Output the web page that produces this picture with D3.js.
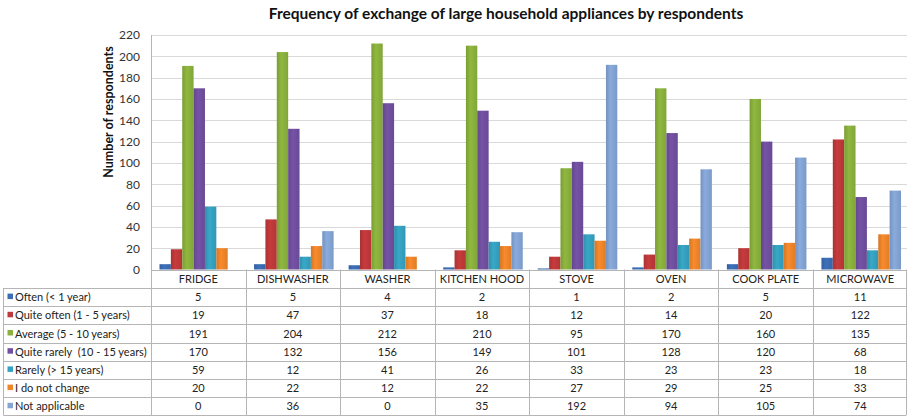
<!DOCTYPE html>
<html>
<head>
<meta charset="utf-8">
<script src="https://cdn.jsdelivr.net/npm/d3@7"></script>
<style>
  html, body { margin: 0; padding: 0; background: #fff; }
  svg { display: block; font-family: Lato, "Open Sans", sans-serif; }
</style>
</head>
<body>
<svg id="chart" width="907" height="417"></svg>
<script>
// Appliances and response categories
const categories = ["FRIDGE", "DISHWASHER", "WASHER", "KITCHEN HOOD", "STOVE", "OVEN", "COOK PLATE", "MICROWAVE"];
const seriesNames = [
  "Often (< 1 year)",
  "Quite often (1 - 5 years)",
  "Average (5 - 10 years)",
  "Quite rarely  (10 - 15 years)",
  "Rarely (> 15 years)",
  "I do not change",
  "Not applicable"
];
const often         = [5, 5, 4, 2, 1, 2, 5, 11];
const quiteOften    = [19, 47, 37, 18, 12, 14, 20, 122];
const average       = [191, 204, 212, 210, 95, 170, 160, 135];
const quiteRarely   = [170, 132, 156, 149, 101, 128, 120, 68];
const rarely        = [59, 12, 41, 26, 33, 23, 23, 18];
const noChange      = [20, 22, 12, 22, 27, 29, 25, 33];
const notApplicable = [0, 36, 0, 35, 192, 94, 105, 74];
const yTicks = [0, 20, 40, 60, 80, 100, 120, 140, 160, 180, 200, 220];

const seriesValues = [often, quiteOften, average, quiteRarely, rarely, noChange, notApplicable];
const colors = ["#3a6db4", "#c0393a", "#8bb23d", "#7150a0", "#36a2c1", "#f0862a", "#84a5d6"];

const svg = d3.select("#chart");
const plotLeft = 151, plotRight = 907.5, plotTop = 35, plotBottom = 269.5;
const rowH = 18.2, headerBottom = 288;

const x = d3.scaleBand().domain(categories).range([plotLeft, plotRight]).padding(0);
const xs = d3.scaleBand().domain(d3.range(seriesNames.length))
  .range([8.5, x.bandwidth() - 6.5]).padding(0);
const y = d3.scaleLinear().domain([0, 220]).range([plotBottom, plotTop]);

// Bar shading
const defs = svg.append("defs");
colors.forEach((c, i) => {
  const g = defs.append("linearGradient").attr("id", "g" + i)
    .attr("x1", "0").attr("x2", "1").attr("y1", "0").attr("y2", "0");
  const base = d3.color(c);
  g.append("stop").attr("offset", "0%").attr("stop-color", base.darker(0.35));
  g.append("stop").attr("offset", "40%").attr("stop-color", base.brighter(0.1));
  g.append("stop").attr("offset", "100%").attr("stop-color", base.darker(0.2));
});

svg.append("text")
  .attr("x", 506).attr("y", 19)
  .attr("text-anchor", "middle")
  .attr("font-size", 15.5).attr("font-weight", "bold").attr("fill", "#111")
  .text("Frequency of exchange of large household appliances by respondents");

// Gridlines
svg.append("g").selectAll("line").data(yTicks.slice(1)).join("line")
  .attr("x1", plotLeft).attr("x2", plotRight)
  .attr("y1", d => Math.round(y(d)) + 0.5).attr("y2", d => Math.round(y(d)) + 0.5)
  .attr("stroke", "#d9d9d9").attr("stroke-width", 1);

// Y axis
const yAxis = d3.axisLeft(y).tickValues(yTicks).tickSize(0).tickPadding(11);
const ya = svg.append("g").attr("transform", `translate(${plotLeft},0)`).call(yAxis);
ya.select(".domain").remove();
ya.selectAll("text").attr("font-size", 12).attr("fill", "#333").attr("font-family", "Lato, sans-serif");

svg.append("text")
  .attr("transform", `translate(113,112) rotate(-90)`)
  .attr("text-anchor", "middle")
  .attr("font-size", 12.5).attr("font-weight", "bold").attr("fill", "#111")
  .text("Number of respondents");

// Bars
const groups = svg.append("g").selectAll("g").data(categories).join("g")
  .attr("transform", d => `translate(${x(d)},0)`);
groups.selectAll("rect")
  .data((d, ci) => seriesValues.map((vals, si) => ({ si, v: vals[ci] })))
  .join("rect")
  .attr("x", d => xs(d.si))
  .attr("width", xs.bandwidth())
  .attr("y", d => y(d.v))
  .attr("height", d => plotBottom - y(d.v))
  .attr("fill", d => `url(#g${d.si})`);

// Data table
const tableBottom = headerBottom + rowH * seriesNames.length;
const lineColor = "#b5b5b5";
const tbl = svg.append("g");

// Axis line and vertical separators
const bounds = categories.map(c => x(c)).concat([plotRight - 2]);
tbl.selectAll("line.v").data(bounds).join("line")
  .attr("x1", d => Math.round(d) + 0.5).attr("x2", d => Math.round(d) + 0.5)
  .attr("y1", (d, i) => i === 0 ? plotTop : plotBottom).attr("y2", tableBottom)
  .attr("stroke", lineColor);
tbl.append("line")
  .attr("x1", 3.5).attr("x2", 3.5).attr("y1", headerBottom).attr("y2", tableBottom)
  .attr("stroke", lineColor);

// Horizontal lines
tbl.append("line")
  .attr("x1", plotLeft).attr("x2", plotRight - 1.5)
  .attr("y1", Math.round(plotBottom) + 0.5).attr("y2", Math.round(plotBottom) + 0.5)
  .attr("stroke", lineColor);
const hLines = d3.range(seriesNames.length + 1).map(i => headerBottom + i * rowH);
tbl.selectAll("line.h").data(hLines).join("line")
  .attr("x1", 3.5).attr("x2", plotRight - 1.5)
  .attr("y1", d => Math.round(d) + 0.5).attr("y2", d => Math.round(d) + 0.5)
  .attr("stroke", lineColor);

// Header labels
tbl.selectAll("text.cat").data(categories).join("text")
  .attr("x", d => x(d) + x.bandwidth() / 2)
  .attr("y", (plotBottom + headerBottom) / 2 + 4)
  .attr("text-anchor", "middle")
  .attr("font-size", 11).attr("fill", "#222")
  .text(d => d);

// Row labels with color keys
const rows = tbl.selectAll("g.row").data(seriesNames).join("g")
  .attr("transform", (d, i) => `translate(0,${headerBottom + i * rowH + rowH / 2})`);
rows.append("rect")
  .attr("x", 7.5).attr("y", -3.5).attr("width", 5.5).attr("height", 5.5)
  .attr("fill", (d, i) => colors[i]);
rows.append("text")
  .attr("x", 15).attr("y", 4)
  .attr("font-size", 11).attr("fill", "#222")
  .style("white-space", "pre")
  .text(d => d);

// Cell values
rows.each(function (name, si) {
  d3.select(this).selectAll("text.val").data(seriesValues[si]).join("text")
    .attr("x", (v, ci) => x(categories[ci]) + x.bandwidth() / 2)
    .attr("y", 4)
    .attr("text-anchor", "middle")
    .attr("font-size", 11).attr("fill", "#222")
    .text(v => v);
});
</script>
</body>
</html>
